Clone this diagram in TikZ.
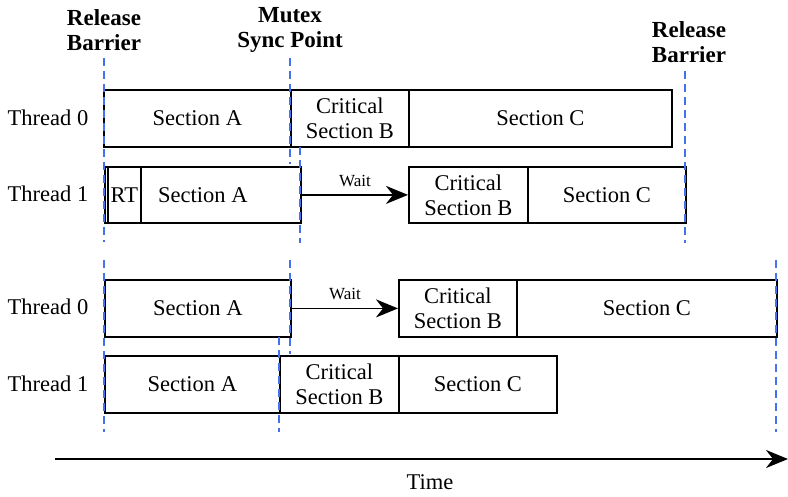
\documentclass[tikz,border=0pt]{standalone}
\usepackage{fontspec}
\setmainfont{Liberation Serif}
\usetikzlibrary{arrows.meta}
\definecolor{barblue}{RGB}{66,114,240}
\tikzset{
  every node/.style={font=\fontsize{22.5}{25}\selectfont},
  box/.style={draw=black, line width=1.8pt, anchor=north west, inner sep=0pt, align=center, fill=white},
  barrier/.style={draw=barblue, line width=1.8pt, dash pattern=on 8pt off 5pt},
  waitarrow/.style={draw=black, line width=1.8pt, -{Stealth[length=22pt,width=18pt,inset=7pt]}},
  waitlbl/.style={font=\fontsize{17}{19}\selectfont, above=4pt},
  hdr/.style={font=\bfseries\fontsize{23}{25}\selectfont, align=center},
  thr/.style={anchor=center}
}
\newcommand{\bx}[6]{% name, x1, y1, x2, y2, text
  \node[box, minimum width=#4-#2, minimum height=#5-#3] (#1) at (#2,#3) {#6};}
\begin{document}
\begin{tikzpicture}[x=1pt,y=-1pt]
\useasboundingbox (0,0) rectangle (788,496);
% headers
\node[hdr] (h1) at (104,30) {Release\\Barrier};
\node[hdr] (h2) at (290,30) {Mutex\\Sync Point};
\node[hdr] (h3) at (689,42) {Release\\Barrier};
% thread labels
\node[thr] (l1) at (48,118) {Thread 0};
\node[thr] (l2) at (48,194) {Thread 1};
\node[thr] (l3) at (48,307) {Thread 0};
\node[thr] (l4) at (48,384) {Thread 1};
% top diagram
\bx{ta0}{103}{89}{290}{146}{Section A}
\bx{tb0}{290}{89}{408}{146}{Critical\\Section B}
\bx{tc0}{408}{89}{671}{146}{Section C}
\bx{ta1}{104}{166}{300}{222}{Section A}
\bx{trt}{107}{166}{140}{222}{RT}
\bx{tb1}{408}{166}{527}{222}{Critical\\Section B}
\bx{tc1}{527}{166}{685}{222}{Section C}
\draw[waitarrow] (ta1.east) -- node[waitlbl] {Wait} (tb1.west);
% bottom diagram
\bx{ba0}{104}{279}{290}{336}{Section A}
\bx{bb0}{398}{279}{516}{336}{Critical\\Section B}
\bx{bc0}{516}{279}{776}{336}{Section C}
\bx{ba1}{104}{355}{279}{412}{Section A}
\bx{bb1}{279}{355}{398}{412}{Critical\\Section B}
\bx{bc1}{398}{355}{556}{412}{Section C}
\draw[waitarrow] (ba0.east) -- node[waitlbl] {Wait} (bb0.west);
% barrier lines
\coordinate (d1a) at (104,58); \coordinate (d1b) at (104,242);
\coordinate (d2a) at (290,58); \coordinate (d2b) at (290,164);
\coordinate (d3a) at (300,147); \coordinate (d3b) at (300,243);
\coordinate (d4a) at (685,71); \coordinate (d4b) at (685,243);
\coordinate (d5a) at (104,260); \coordinate (d5b) at (104,432);
\coordinate (d6a) at (290,260); \coordinate (d6b) at (290,354);
\coordinate (d7a) at (279,337); \coordinate (d7b) at (279,432);
\coordinate (d8a) at (776,260); \coordinate (d8b) at (776,432);
\foreach \i in {1,...,8} { \draw[barrier] (d\i a) -- (d\i b); }
% time axis
\coordinate (t0) at (55,459);
\coordinate (t1) at (788,459);
\draw[waitarrow] (t0) -- (t1);
\node (time) at (430,482) {Time};
\end{tikzpicture}
\end{document}
